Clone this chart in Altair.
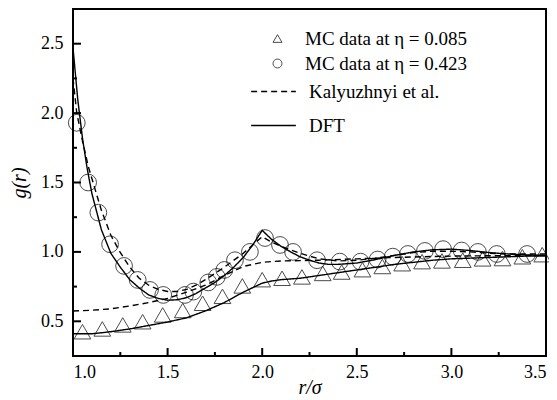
import altair as alt
import pandas as pd

# ---- MC data at eta = 0.085 (triangles)
tri_r = [1.05, 1.155, 1.263, 1.368, 1.474, 1.58, 1.685, 1.79, 1.895, 2.0, 2.105, 2.21,
         2.32, 2.42, 2.53, 2.635, 2.74, 2.845, 2.95, 3.06, 3.165, 3.27, 3.375, 3.48]
tri_g = [0.425, 0.445, 0.474, 0.497, 0.546, 0.578, 0.63, 0.68, 0.755, 0.80, 0.81, 0.82,
         0.845, 0.855, 0.872, 0.895, 0.915, 0.93, 0.935, 0.94, 0.95, 0.952, 0.965, 0.98]

# ---- MC data at eta = 0.423 (circles)
circ_r = [1.02, 1.08, 1.134, 1.196, 1.27, 1.342, 1.407, 1.477, 1.592, 1.636, 1.715, 1.76,
          1.80, 1.856, 1.935, 2.015, 2.094, 2.163, 2.29, 2.41, 2.52, 2.61, 2.69, 2.77,
          2.86, 2.956, 3.054, 3.14, 3.24, 3.40]
circ_g = [1.93, 1.50, 1.283, 1.055, 0.899, 0.798, 0.726, 0.69, 0.69, 0.714, 0.78, 0.82,
          0.87, 0.94, 1.0, 1.10, 1.05, 1.0, 0.94, 0.93, 0.93, 0.945, 0.966, 0.985,
          1.007, 1.02, 1.01, 1.0, 0.985, 0.985]

# ---- DFT, eta = 0.423
dft_hi_r = [1.0, 1.025, 1.05, 1.075, 1.1, 1.15, 1.2, 1.25, 1.3, 1.35, 1.4, 1.45, 1.5, 1.55,
            1.6, 1.65, 1.7, 1.75, 1.8, 1.85, 1.9, 1.95, 2.0, 2.05, 2.1, 2.15, 2.2, 2.25,
            2.3, 2.35, 2.4, 2.5, 2.6, 2.7, 2.8, 2.9, 3.0, 3.1, 3.2, 3.3, 3.4, 3.5]
dft_hi_g = [2.47, 2.1, 1.82, 1.6, 1.42, 1.16, 0.99, 0.89, 0.80, 0.74, 0.69, 0.665, 0.652, 0.655,
            0.67, 0.70, 0.74, 0.78, 0.83, 0.89, 0.96, 1.05, 1.155, 1.09, 1.04, 1.0, 0.965, 0.94,
            0.92, 0.91, 0.91, 0.92, 0.945, 0.975, 1.0, 1.015, 1.02, 1.01, 0.995, 0.985, 0.978, 0.975]

# ---- DFT, eta = 0.085
dft_lo_r = [1.0, 1.1, 1.2, 1.3, 1.4, 1.5, 1.6, 1.7, 1.8, 1.9, 2.0, 2.05, 2.1, 2.2, 2.3, 2.4,
            2.5, 2.6, 2.7, 2.8, 2.9, 3.0, 3.1, 3.2, 3.3, 3.4, 3.5]
dft_lo_g = [0.41, 0.41, 0.425, 0.445, 0.47, 0.495, 0.525, 0.575, 0.635, 0.71, 0.775, 0.79, 0.80,
            0.81, 0.83, 0.85, 0.87, 0.89, 0.91, 0.925, 0.94, 0.95, 0.955, 0.96, 0.965, 0.97, 0.97]

# ---- Kalyuzhnyi et al., eta = 0.423
kal_hi_r = [1.0, 1.02, 1.05, 1.08, 1.106, 1.15, 1.2, 1.248, 1.3, 1.35, 1.4, 1.45, 1.5, 1.55,
            1.6, 1.65, 1.7, 1.8, 1.9, 2.0, 2.05, 2.1, 2.2, 2.3, 2.4, 2.5, 2.6, 2.7, 2.8, 2.9,
            3.0, 3.1, 3.2, 3.3, 3.4, 3.5]
kal_hi_g = [2.25, 2.0, 1.8, 1.62, 1.5, 1.3, 1.12, 1.0, 0.89, 0.81, 0.76, 0.73, 0.715, 0.715,
            0.73, 0.76, 0.80, 0.89, 0.99, 1.11, 1.07, 1.04, 0.99, 0.95, 0.935, 0.94, 0.955,
            0.975, 0.995, 1.005, 1.005, 1.0, 0.99, 0.985, 0.985, 0.985]

# ---- Kalyuzhnyi et al., eta = 0.085
kal_lo_r = [1.0, 1.1, 1.2, 1.3, 1.4, 1.5, 1.6, 1.7, 1.8, 1.9, 2.0, 2.1, 2.2, 2.3, 2.5, 2.7,
            3.0, 3.5]
kal_lo_g = [0.574, 0.58, 0.59, 0.61, 0.635, 0.665, 0.71, 0.76, 0.83, 0.895, 0.925, 0.935,
            0.937, 0.94, 0.95, 0.96, 0.97, 0.975]

x_major = [1.0, 1.5, 2.0, 2.5, 3.0, 3.5]
x_minor = [1.25, 1.75, 2.25, 2.75, 3.25]
y_major = [0.5, 1.0, 1.5, 2.0, 2.5]
y_minor = [0.75, 1.25, 1.75, 2.25]

MC_LO = "MC data at η = 0.085"
MC_HI = "MC data at η = 0.423"
KAL = "Kalyuzhnyi et al."
DFT = "DFT"

pts = pd.concat([
    pd.DataFrame({"r": tri_r, "g": tri_g, "series": MC_LO}),
    pd.DataFrame({"r": circ_r, "g": circ_g, "series": MC_HI}),
])
lines = pd.concat([
    pd.DataFrame({"r": kal_hi_r, "g": kal_hi_g, "curve": "kal_hi", "style": KAL}),
    pd.DataFrame({"r": kal_lo_r, "g": kal_lo_g, "curve": "kal_lo", "style": KAL}),
    pd.DataFrame({"r": dft_hi_r, "g": dft_hi_g, "curve": "dft_hi", "style": DFT}),
    pd.DataFrame({"r": dft_lo_r, "g": dft_lo_g, "curve": "dft_lo", "style": DFT}),
])

W, H = 473, 347
FONT = "Liberation Serif"

xs = alt.Scale(domain=[1.0, 3.5], nice=False, zero=False)
ys = alt.Scale(domain=[0.25, 2.75], nice=False, zero=False)

xax = alt.Axis(values=x_major, format=".1f", ticks=False, domain=False, grid=False,
               labelPadding=7, title="r/σ", titleFontStyle="italic",
               titleY=37, titleBaseline="alphabetic")
yax = alt.Axis(values=y_major, format=".1f", ticks=False, domain=False, grid=False,
               labelPadding=10, title="g(r)", titleFontStyle="italic", titlePadding=11)

line_layer = alt.Chart(lines).mark_line(color="black", strokeWidth=1.4).encode(
    x=alt.X("r:Q", scale=xs, axis=xax),
    y=alt.Y("g:Q", scale=ys, axis=yax),
    detail="curve:N",
    strokeDash=alt.StrokeDash(
        "style:N",
        scale=alt.Scale(domain=[KAL, DFT], range=[[6, 4], [1, 0]]),
        legend=alt.Legend(title=None, orient="none", legendX=177, legendY=59,
                          symbolType="stroke", symbolSize=2000, symbolStrokeWidth=1.4,
                          symbolStrokeColor="black", labelOffset=12, rowPadding=-8,
                          labelFontSize=19, labelFont=FONT, labelLimit=0, padding=0),
    ),
)

pt_layer = alt.Chart(pts).mark_point(filled=False, color="black", size=280, strokeWidth=1).encode(
    x=alt.X("r:Q", scale=xs),
    y=alt.Y("g:Q", scale=ys),
    shape=alt.Shape(
        "series:N",
        scale=alt.Scale(domain=[MC_LO, MC_HI], range=["triangle-up", "circle"]),
        legend=alt.Legend(title=None, orient="none", legendX=195, legendY=20,
                          symbolSize=80, symbolStrokeColor="black", symbolFillColor="transparent",
                          symbolStrokeWidth=1, labelOffset=18, rowPadding=5,
                          labelFontSize=19, labelFont=FONT, labelLimit=0, padding=0),
    ),
)

xt_major = alt.Chart(pd.DataFrame({"v": x_major})).mark_rule(color="black", strokeWidth=2).encode(
    x=alt.X("v:Q", scale=xs), y=alt.value(H), y2=alt.value(H - 8))
xt_minor = alt.Chart(pd.DataFrame({"v": x_minor})).mark_rule(color="black", strokeWidth=2).encode(
    x=alt.X("v:Q", scale=xs), y=alt.value(H), y2=alt.value(H - 4))
yt_major = alt.Chart(pd.DataFrame({"v": y_major})).mark_rule(color="black", strokeWidth=2).encode(
    y=alt.Y("v:Q", scale=ys), x=alt.value(0), x2=alt.value(8))
yt_minor = alt.Chart(pd.DataFrame({"v": y_minor})).mark_rule(color="black", strokeWidth=2).encode(
    y=alt.Y("v:Q", scale=ys), x=alt.value(0), x2=alt.value(4))

chart = alt.layer(line_layer, pt_layer, xt_major, xt_minor, yt_major, yt_minor).properties(
    width=W, height=H,
    autosize=alt.AutoSizeParams(type="none"),
    padding={"left": 65, "top": 1, "right": 3, "bottom": 44},
).configure_view(
    stroke="black", strokeWidth=2
).configure_axis(
    labelFont=FONT, labelFontSize=18, labelColor="black",
    titleFont=FONT, titleFontSize=20, titleColor="black", titleFontWeight="normal",
).configure_legend(
    labelColor="black"
)

chart.save("out.html", embed_options={"renderer": "svg", "actions": False})
